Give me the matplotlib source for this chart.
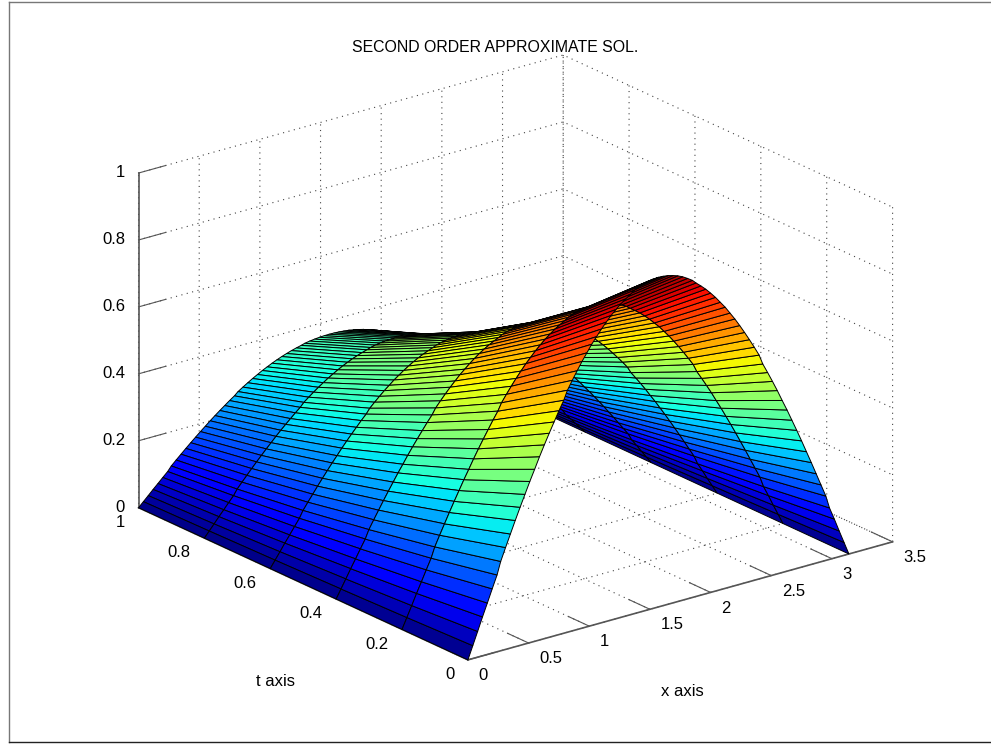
import matplotlib
matplotlib.use("Agg")
import matplotlib.pyplot as plt
from matplotlib.lines import Line2D
import numpy as np

plt.rcParams['font.family'] = ['Liberation Sans', 'DejaVu Sans']
plt.rcParams['grid.color'] = '#444444'
plt.rcParams['grid.linestyle'] = (0, (1, 4))
plt.rcParams['grid.linewidth'] = 0.8

title_text = "SECOND ORDER APPROXIMATE SOL."
t_values = [0, 0.2, 0.4, 0.6, 0.8, 1.0]
# height of each arch at mid span
arch_peak = [0.985, 0.81, 0.665, 0.54, 0.44, 0.36]
x_values = [0.00, 0.04, 0.08, 0.12, 0.16, 0.20, 0.24, 0.27, 0.31, 0.35, 0.39, 0.43, 0.47, 0.51,
            0.55, 0.59, 0.63, 0.67, 0.71, 0.75, 0.79, 0.82, 0.86, 0.90, 0.94, 0.98, 1.02, 1.06,
            1.10, 1.14, 1.18, 1.22, 1.26, 1.30, 1.34, 1.37, 1.41, 1.45, 1.49, 1.53, 1.57,
            1.61, 1.65, 1.69, 1.73, 1.77, 1.81, 1.85, 1.88, 1.92, 1.96, 2.00, 2.04, 2.08,
            2.12, 2.16, 2.20, 2.24, 2.28, 2.32, 2.36, 2.40, 2.43, 2.47, 2.51, 2.55, 2.59,
            2.63, 2.67, 2.71, 2.75, 2.79, 2.83, 2.87, 2.91, 2.95, 2.98, 3.02, 3.06, 3.10, 3.14]
# arch shape, 0 at the ends and 1 at mid span
arch_shape = [0.000, 0.039, 0.078, 0.118, 0.156, 0.195, 0.233, 0.271, 0.309, 0.346, 0.383, 0.419,
              0.454, 0.489, 0.522, 0.556, 0.588, 0.619, 0.649, 0.679, 0.707, 0.734, 0.760, 0.785,
              0.809, 0.831, 0.853, 0.872, 0.891, 0.908, 0.924, 0.938, 0.951, 0.962, 0.972, 0.981,
              0.988, 0.993, 0.997, 0.999, 1.000,
              0.999, 0.997, 0.993, 0.988, 0.981, 0.972, 0.962, 0.951, 0.938, 0.924, 0.908, 0.891,
              0.872, 0.853, 0.831, 0.809, 0.785, 0.760, 0.734, 0.707, 0.679, 0.649, 0.619, 0.588,
              0.556, 0.522, 0.489, 0.454, 0.419, 0.383, 0.346, 0.309, 0.271, 0.233, 0.195, 0.156,
              0.118, 0.078, 0.039, 0.000]
x_ticks = [0, 0.5, 1, 1.5, 2, 2.5, 3, 3.5]
t_ticks = [0, 0.2, 0.4, 0.6, 0.8, 1]
z_ticks = [0, 0.2, 0.4, 0.6, 0.8, 1]

X, T = np.meshgrid(x_values, t_values)
Z = np.outer(arch_peak, arch_shape)

fig = plt.figure(figsize=(9.91, 7.45), dpi=100)
ax = fig.add_axes([10 / 991, 5 / 745, 1, 1], projection='3d')
ax.set_proj_type('ortho')
ax.view_init(elev=21, azim=-127.8)
ax.set_box_aspect((1, 1, 0.667), zoom=1.095)

# colours run out at about 0.92 in the picture, top of the front arch is dark red
ax.plot_surface(X, T, Z, rstride=1, cstride=1, cmap='jet', vmin=0, vmax=0.92,
                edgecolor='black', linewidth=0.7, shade=False)

ax.set_xlim(0, 3.5, view_margin=0)
ax.set_ylim(0, 1, view_margin=0)
ax.set_zlim(0, 1, view_margin=0)
ax.set_xticks(x_ticks)
ax.set_yticks(t_ticks)
ax.set_zticks(z_ticks)
ax.set_xticklabels(['0', '0.5', '1', '1.5', '2', '2.5', '3', '3.5'], ha='left', va='center')
ax.set_yticklabels(['0', '0.2', '0.4', '0.6', '0.8', '1'], ha='right', va='center')
ax.set_zticklabels(['0', '0.2', '0.4', '0.6', '0.8', '1'], ha='right', va='center')
ax.tick_params(labelsize=12, pad=1, color='#555555', labelcolor='black', width=0.9)
ax.tick_params(axis='z', pad=-3)

for axis in (ax.xaxis, ax.yaxis, ax.zaxis):
    axis.set_pane_color((1, 1, 1, 0))
    axis.pane.set_edgecolor('none')
    axis.line.set_color('#555555')
    axis.line.set_linewidth(1.2)
    axis._axinfo['tick']['inward_factor'] = 0
    axis._axinfo['tick']['outward_factor'] = 0.8

fig.text(495 / 991, 1 - 47 / 745, title_text, ha='center', va='center', fontsize=11.4)
fig.text(682 / 991, 1 - 691 / 745, 'x axis', ha='center', va='center', fontsize=12)
fig.text(276 / 991, 1 - 682 / 745, 't axis', ha='center', va='center', fontsize=12)

# picture frame
fig.add_artist(Line2D([9 / 991, 9 / 991], [1 - 742 / 745, 1 - 1.5 / 745], color='#777777', lw=1))
fig.add_artist(Line2D([9 / 991, 1], [1 - 1.5 / 745, 1 - 1.5 / 745], color='#777777', lw=1))
fig.add_artist(Line2D([9 / 991, 1], [1 - 742 / 745, 1 - 742 / 745], color='#222222', lw=1))

fig.savefig('out.png', dpi=100)
